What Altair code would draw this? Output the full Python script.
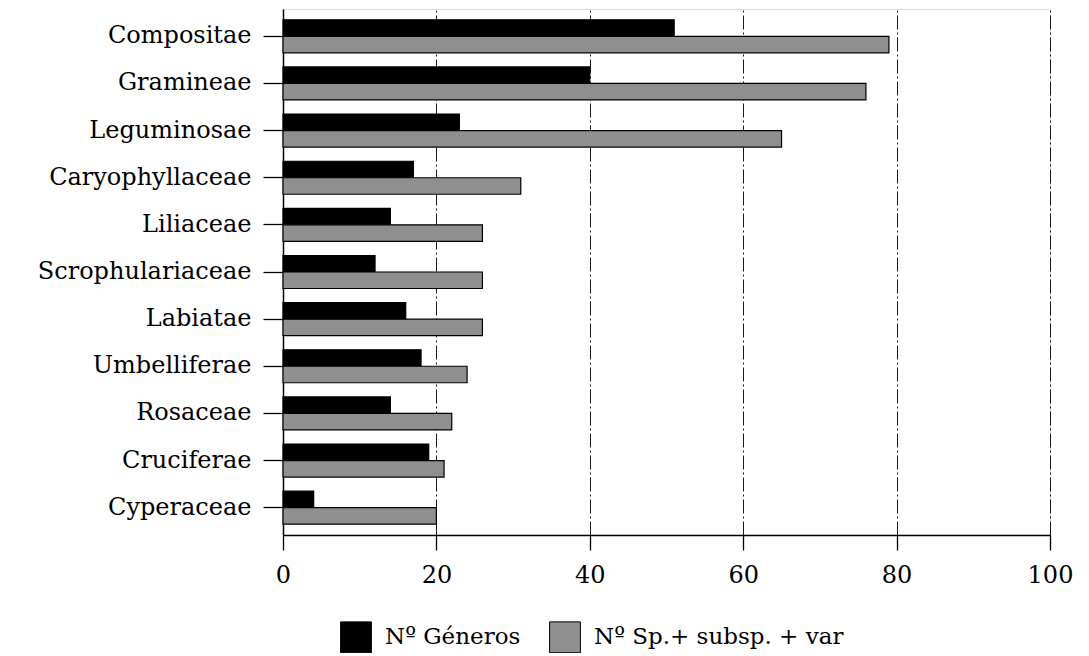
import altair as alt
import pandas as pd

families = ["Compositae", "Gramineae", "Leguminosae", "Caryophyllaceae", "Liliaceae",
            "Scrophulariaceae", "Labiatae", "Umbelliferae", "Rosaceae", "Cruciferae", "Cyperaceae"]
generos = [51, 40, 23, 17, 14, 12, 16, 18, 14, 19, 4]
especies = [79, 76, 65, 31, 26, 26, 26, 24, 22, 21, 20]
series_names = ["Nº Géneros", "Nº Sp.+ subsp. + var"]
x_ticks = [0, 20, 40, 60, 80, 100]

rows = []
for f, g, s in zip(families, generos, especies):
    rows.append({"familia": f, "serie": series_names[0], "valor": g})
    rows.append({"familia": f, "serie": series_names[1], "valor": s})
df = pd.DataFrame(rows)

FONT = "DejaVu Serif"

chart = alt.Chart(df).mark_bar(stroke="black", strokeWidth=1.2).encode(
    x=alt.X("valor:Q",
            scale=alt.Scale(domain=[0, 100], nice=False),
            axis=alt.Axis(values=x_ticks, title=None, grid=True, gridColor="black",
                          gridDash=[14, 3, 2, 3], gridWidth=0.9,
                          tickSize=15, tickColor="black", tickWidth=1.3,
                          domainColor="black", domainWidth=1.5,
                          labelFont=FONT, labelFontSize=24, labelColor="black",
                          labelPadding=13, labelFlush=False)),
    y=alt.Y("familia:N", sort=families,
            scale=alt.Scale(paddingInner=0.3, paddingOuter=0.23),
            axis=alt.Axis(title=None, tickSize=20, tickColor="black", tickWidth=1.3,
                          domainColor="black", domainWidth=1.5,
                          labelFont=FONT, labelFontSize=24, labelColor="black",
                          labelPadding=12, labelLimit=300)),
    yOffset=alt.YOffset("serie:N", sort=series_names),
    color=alt.Color("serie:N", sort=series_names,
                    scale=alt.Scale(domain=series_names, range=["#000000", "#8f8f8f"]),
                    legend=alt.Legend(title=None, orient="none", legendX=57, legendY=612,
                                      direction="horizontal", symbolType="square",
                                      symbolSize=950, symbolStrokeColor="black",
                                      symbolStrokeWidth=1, symbolOpacity=1,
                                      labelFont=FONT, labelFontSize=23, labelColor="black",
                                      labelOffset=13, columnPadding=26, padding=0,
                                      labelLimit=400)),
).properties(
    width=767, height=526,
    autosize=alt.AutoSizeParams(type="none"),
    padding={"left": 275, "top": 1, "right": 30, "bottom": 118},
).configure_view(stroke="black", strokeWidth=1.5).configure(background="white")

chart.save("out.html", embed_options={"renderer": "svg", "actions": False})
